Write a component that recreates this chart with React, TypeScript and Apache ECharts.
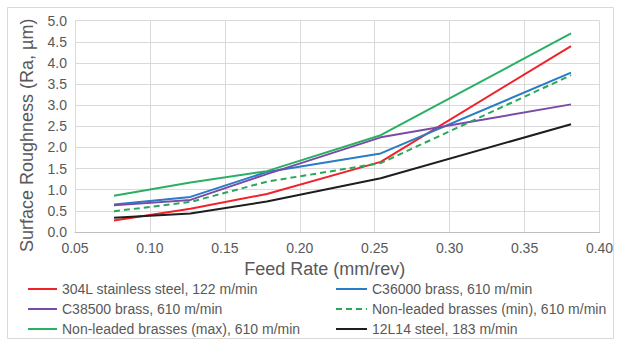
import React, { useEffect, useRef } from "react";
import * as echarts from "echarts";

const feedRate = [0.076, 0.127, 0.178, 0.254, 0.381];
const seriesNames = [
  "304L stainless steel, 122 m/min",
  "C36000 brass, 610 m/min",
  "C38500 brass, 610 m/min",
  "Non-leaded brasses (min), 610 m/min",
  "Non-leaded brasses (max), 610 m/min",
  "12L14 steel, 183 m/min",
];
const ss304L = [0.27, 0.55, 0.9, 1.66, 4.4];
const c36000 = [0.65, 0.83, 1.42, 1.86, 3.77];
const c38500 = [0.63, 0.76, 1.37, 2.24, 3.02];
const nlMin = [0.49, 0.71, 1.19, 1.63, 3.71];
const nlMax = [0.86, 1.17, 1.44, 2.29, 4.7];
const s12L14 = [0.34, 0.44, 0.72, 1.27, 2.55];

const values = [ss304L, c36000, c38500, nlMin, nlMax, s12L14];
const colors = ["#f0222a", "#2a7cc4", "#7a4aa8", "#2aa85a", "#2ab064", "#1e1e1e"];
const dashed = [false, false, false, true, false, false];

export default function App() {
  const ref = useRef<HTMLDivElement>(null);
  useEffect(() => {
    if (!ref.current) return;
    const chart = echarts.init(ref.current, null, { renderer: "svg" });
    const font = "Liberation Sans, Arial, sans-serif";
    const legendBase = {
      orient: "vertical",
      top: 282,
      padding: 0,
      itemHeight: 14,
      itemGap: 6,
      itemStyle: { opacity: 0 },
      textStyle: { fontSize: 14, color: "#595959", fontFamily: font },
    };
    chart.setOption({
      animation: false,
      graphic: [
        {
          type: "rect",
          shape: { x: 7.5, y: 7.5, width: 606, height: 331 },
          style: { fill: "none", stroke: "#d9d9d9", lineWidth: 1 },
          silent: true,
        },
      ],
      grid: { left: 75, right: 24.5, top: 20.7, bottom: 110, containLabel: false },
      xAxis: {
        type: "value",
        min: 0.05,
        max: 0.4,
        interval: 0.05,
        name: "Feed Rate (mm/rev)",
        nameLocation: "middle",
        nameGap: 25,
        nameTextStyle: {
          fontSize: 18,
          color: "#595959",
          fontFamily: font,
          padding: [0, 25, 0, 0],
        },
        axisLine: { show: true, lineStyle: { color: "#bfbfbf", width: 1 } },
        axisTick: { show: false },
        axisLabel: {
          fontSize: 14,
          color: "#595959",
          fontFamily: font,
          margin: 9,
          formatter: (v: number) => v.toFixed(2),
        },
        splitLine: { show: true, lineStyle: { color: "#d9d9d9", width: 1 } },
      },
      yAxis: {
        type: "value",
        min: 0,
        max: 5,
        interval: 0.5,
        name: "Surface Roughness (Ra, µm)",
        nameLocation: "middle",
        nameGap: 39,
        nameTextStyle: {
          fontSize: 18,
          color: "#595959",
          fontFamily: font,
          padding: [0, 18, 0, 0],
        },
        axisLine: { show: true, lineStyle: { color: "#d9d9d9", width: 1 } },
        axisTick: { show: false },
        axisLabel: {
          fontSize: 14,
          color: "#595959",
          fontFamily: font,
          margin: 8,
          formatter: (v: number) => v.toFixed(1),
        },
        splitLine: { show: true, lineStyle: { color: "#d9d9d9", width: 1 } },
      },
      legend: [
        {
          ...legendBase,
          left: 27,
          itemWidth: 29,
          data: [seriesNames[0], seriesNames[2], seriesNames[4]],
        },
        {
          ...legendBase,
          left: 335,
          itemWidth: 31,
          data: [seriesNames[1], seriesNames[3], seriesNames[5]],
        },
      ],
      series: seriesNames.map((name, i) => ({
        name,
        type: "line",
        symbol: "none",
        data: feedRate.map((x, j) => [x, values[i][j]]),
        lineStyle: {
          color: colors[i],
          width: 2,
          type: dashed[i] ? [6, 4] : "solid",
        },
        itemStyle: { color: colors[i] },
      })),
    });
    return () => chart.dispose();
  }, []);
  return (
    <div
      ref={ref}
      style={{ position: "fixed", left: 0, top: 0, width: 624, height: 342, background: "#fff" }}
    />
  );
}
